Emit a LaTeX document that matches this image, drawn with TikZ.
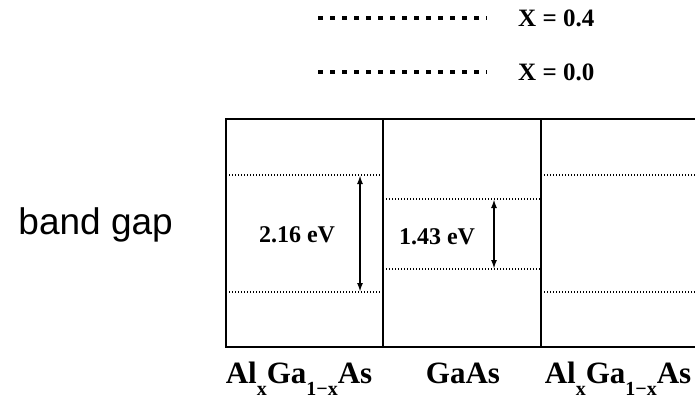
\documentclass[tikz,border=0pt]{standalone}
\usepackage{fontspec}
\setmainfont{Liberation Serif}
\newfontfamily\gapfont{Liberation Sans}
\usetikzlibrary{positioning,arrows.meta}
\newcommand{\lowsub}[1]{\raisebox{-12pt}{\fontsize{20}{20}\selectfont #1}}

\begin{document}
\begin{tikzpicture}[x=1pt,y=-1pt,
    lbl/.style={inner sep=0pt,font=\fontsize{24}{24}\selectfont\bfseries},
    layer/.style={inner sep=0pt,anchor=base,font=\fontsize{31}{31}\selectfont\bfseries},
    wall/.style={line width=1.3pt},
    level/.style={line width=1.2pt,dash pattern=on 1.2pt off 1.8pt},
    key/.style={line width=4.5pt,dash pattern=on 4.5pt off 7.5pt},
    gaparrow/.style={line width=1.8pt,{Latex[length=9pt,width=6pt]}-{Latex[length=9pt,width=6pt]}}]
	\useasboundingbox (0,0) rectangle (695,407);
	% legend
	\coordinate (k1a) at (318,18); \coordinate (k1b) at (487,18);
	\coordinate (k2a) at (318,72); \coordinate (k2b) at (487,72);
	\draw[key] (k1a) -- (k1b);
	\draw[key] (k2a) -- (k2b);
	\node[lbl,anchor=west,font=\fontsize{25}{25}\selectfont\bfseries] (x04) at (518,18) {X = 0.4};
	\node[lbl,anchor=west,font=\fontsize{25}{25}\selectfont\bfseries] (x00) at (518,72) {X = 0.0};
	% layers
	\draw[wall] (695,119) -- (226,119) -- (226,347) -- (695,347);
	\draw[wall] (383,119) -- (383,347);
	\draw[wall] (541,119) -- (541,347);
	% band edges
	\coordinate (lt) at (226,175); \coordinate (lb) at (226,292);
	\coordinate (mlt) at (383,175); \coordinate (mlb) at (383,292);
	\coordinate (mt) at (383,199); \coordinate (mb) at (383,269);
	\coordinate (mrt) at (541,199); \coordinate (mrb) at (541,269);
	\coordinate (rt) at (541,175); \coordinate (rb) at (541,292);
	\coordinate (et) at (695,175); \coordinate (eb) at (695,292);
	\draw[level] (lt) -- (mlt);
	\draw[level] (lb) -- (mlb);
	\draw[level] (mt) -- (mrt);
	\draw[level] (mb) -- (mrb);
	\draw[level] (rt) -- (et);
	\draw[level] (rb) -- (eb);
	% gaps
	\coordinate (g1t) at (360,175); \coordinate (g1b) at (360,292);
	\coordinate (g2t) at (494,199); \coordinate (g2b) at (494,269);
	\draw[gaparrow] (g1t) -- (g1b);
	\draw[gaparrow] (g2t) -- (g2b);
	\node[lbl] (e1) at (297,235) {2.16 eV};
	\node[lbl] (e2) at (437,237) {1.43 eV};
	\node[inner sep=0pt,anchor=base east,font=\gapfont\fontsize{37}{37}\selectfont] (bg) at (173,234) {band gap};
	% materials
	\node[layer] (m1) at (299,383) {Al\lowsub{x}Ga\lowsub{1−x}As};
	\node[layer] (m2) at (463,383) {GaAs};
	\node[layer] (m3) at (618,383) {Al\lowsub{x}Ga\lowsub{1−x}As};
\end{tikzpicture}
\end{document}
